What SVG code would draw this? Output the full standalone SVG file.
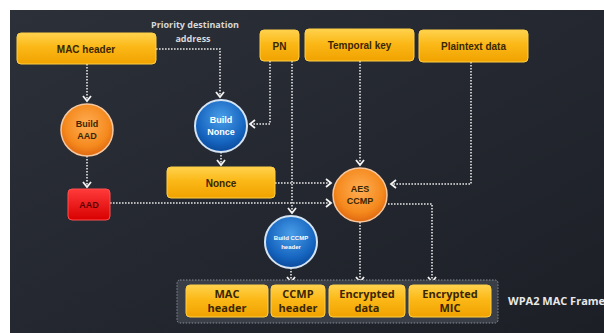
<svg xmlns="http://www.w3.org/2000/svg" width="604" height="333" viewBox="0 0 604 333">
<defs>
<linearGradient id="bg" x1="0" y1="0" x2="1" y2="1">
<stop offset="0" stop-color="#2c3039"/><stop offset="1" stop-color="#1c1f26"/>
</linearGradient>
<linearGradient id="gold" x1="0" y1="0" x2="0" y2="1">
<stop offset="0" stop-color="#ffd24d"/><stop offset="0.45" stop-color="#fbb817"/><stop offset="1" stop-color="#f0a200"/>
</linearGradient>
<linearGradient id="red" x1="0" y1="0" x2="0" y2="1">
<stop offset="0" stop-color="#ff3a3a"/><stop offset="1" stop-color="#d80000"/>
</linearGradient>
<radialGradient id="orange" cx="0.5" cy="0.4" r="0.6">
<stop offset="0" stop-color="#ffae55"/><stop offset="0.7" stop-color="#f58a1e"/><stop offset="1" stop-color="#e06810"/>
</radialGradient>
<radialGradient id="blue" cx="0.5" cy="0.35" r="0.65">
<stop offset="0" stop-color="#4a9ee8"/><stop offset="0.7" stop-color="#1665c0"/><stop offset="1" stop-color="#0a4a9c"/>
</radialGradient>
<marker id="chev" markerUnits="userSpaceOnUse" markerWidth="10" markerHeight="10" viewBox="-6 -5 7 10" refX="0" refY="0" orient="auto">
<path d="M-5,-4 L0,0 L-5,4" fill="none" stroke="#f2f2f2" stroke-width="1.8"/>
</marker>
<style>
.box{fill:url(#gold);stroke:#ffcf45;stroke-width:1}
.t{font-family:"Liberation Sans",Arial,sans-serif;font-weight:bold;font-size:10px;fill:#3a2600;text-anchor:middle}
.s9{font-size:9px}
.s6{font-size:6px;fill:#ffffff}
.wt{fill:#ffffff}
.ft{font-family:"Open Sans","Liberation Sans",sans-serif;font-weight:bold;font-size:11px;fill:#3a2600;text-anchor:middle}
.w{font-family:"Open Sans","Liberation Sans",sans-serif;font-weight:bold;fill:#d8d8d8;text-anchor:middle;font-size:9px}
.c{fill:none;stroke:#e6e6e6;stroke-width:1.6;stroke-dasharray:1.6 1.4;marker-end:url(#chev)}
</style>
</defs>
<rect x="0" y="0" width="604" height="333" fill="#ffffff"/>
<rect x="10" y="10" width="594" height="323" fill="url(#bg)"/>

<g id="connectors">
<path class="c" d="M87,64 V101"/>
<path class="c" d="M156,49 H220 V97"/>
<path class="c" d="M270,61 V124 H250"/>
<path class="c" d="M221,152 V165"/>
<path class="c" d="M87,156 V187"/>
<path class="c" d="M292,61 V213"/>
<path class="c" d="M360,61 V165"/>
<path class="c" d="M471,62 V184 H391"/>
<path class="c" d="M275,183 H331"/>
<path class="c" d="M110,203 H331"/>
<path class="c" d="M360,222 V282"/>
<path class="c" d="M388,204 H432 V282"/>
<path class="c" d="M291,268 V282"/>
<text class="w" x="195" y="28">Priority destination</text>
<text class="w" x="193" y="42">address</text>
</g>

<g id="mac-header"><rect class="box" x="17" y="33" width="139" height="31" rx="4"/><text class="t" x="86" y="52.5">MAC header</text></g>
<g id="pn"><rect class="box" x="260" y="30" width="39" height="31" rx="4"/><text class="t" x="279.5" y="49.5">PN</text></g>
<g id="temporal-key"><rect class="box" x="305" y="29" width="109" height="32" rx="4"/><text class="t" x="359.5" y="49">Temporal key</text></g>
<g id="plaintext-data"><rect class="box" x="419" y="30" width="109" height="32" rx="4"/><text class="t" x="473.5" y="50">Plaintext data</text></g>

<g id="build-aad"><circle cx="87" cy="130" r="26" fill="url(#orange)" stroke="#f6c8a0" stroke-width="1.5"/><text class="t s9" x="87" y="127">Build</text><text class="t s9" x="87" y="139">AAD</text></g>
<g id="build-nonce"><circle cx="221" cy="126" r="26" fill="url(#blue)" stroke="#d4e4f4" stroke-width="2"/><text class="t s9 wt" x="221" y="123">Build</text><text class="t s9 wt" x="221" y="135">Nonce</text></g>

<g id="nonce"><rect class="box" x="167" y="167" width="108" height="31" rx="4"/><text class="t" x="221" y="186.5">Nonce</text></g>
<g id="aad"><rect x="68" y="189" width="42" height="31" rx="4" fill="url(#red)" stroke="#ff5050" stroke-width="1"/><text class="t s9" x="89" y="208" style="fill:#5a0000">AAD</text></g>

<g id="aes-ccmp"><circle cx="360" cy="195" r="27" fill="url(#orange)" stroke="#f6c8a0" stroke-width="1.5"/><text class="t s9" x="360" y="192">AES</text><text class="t s9" x="360" y="204">CCMP</text></g>

<g id="build-ccmp-header"><circle cx="291" cy="242" r="26" fill="url(#blue)" stroke="#d4e4f4" stroke-width="2"/><text class="t s6" x="291" y="240">Build CCMP</text><text class="t s6" x="291" y="249">header</text></g>

<g id="wpa2-frame">
<rect x="177" y="280" width="321" height="43" rx="3" fill="#3a3e46" stroke="#8a8e96" stroke-width="1" stroke-dasharray="1.5 1.5"/>
<rect class="box" x="186" y="285" width="82" height="32" rx="4"/><text class="ft" x="227" y="298">MAC</text><text class="ft" x="227" y="312">header</text>
<rect class="box" x="271" y="285" width="54" height="32" rx="4"/><text class="ft" x="298" y="298">CCMP</text><text class="ft" x="298" y="312">header</text>
<rect class="box" x="329" y="285" width="76" height="32" rx="4"/><text class="ft" x="367" y="298">Encrypted</text><text class="ft" x="367" y="312">data</text>
<rect class="box" x="409" y="285" width="82" height="32" rx="4"/><text class="ft" x="450" y="298">Encrypted</text><text class="ft" x="450" y="312">MIC</text>
</g>
<g id="frame-label"><text class="w" x="508" y="305" style="text-anchor:start;fill:#e8e8e8;font-size:11px">WPA2 MAC Frame</text></g>
</svg>
